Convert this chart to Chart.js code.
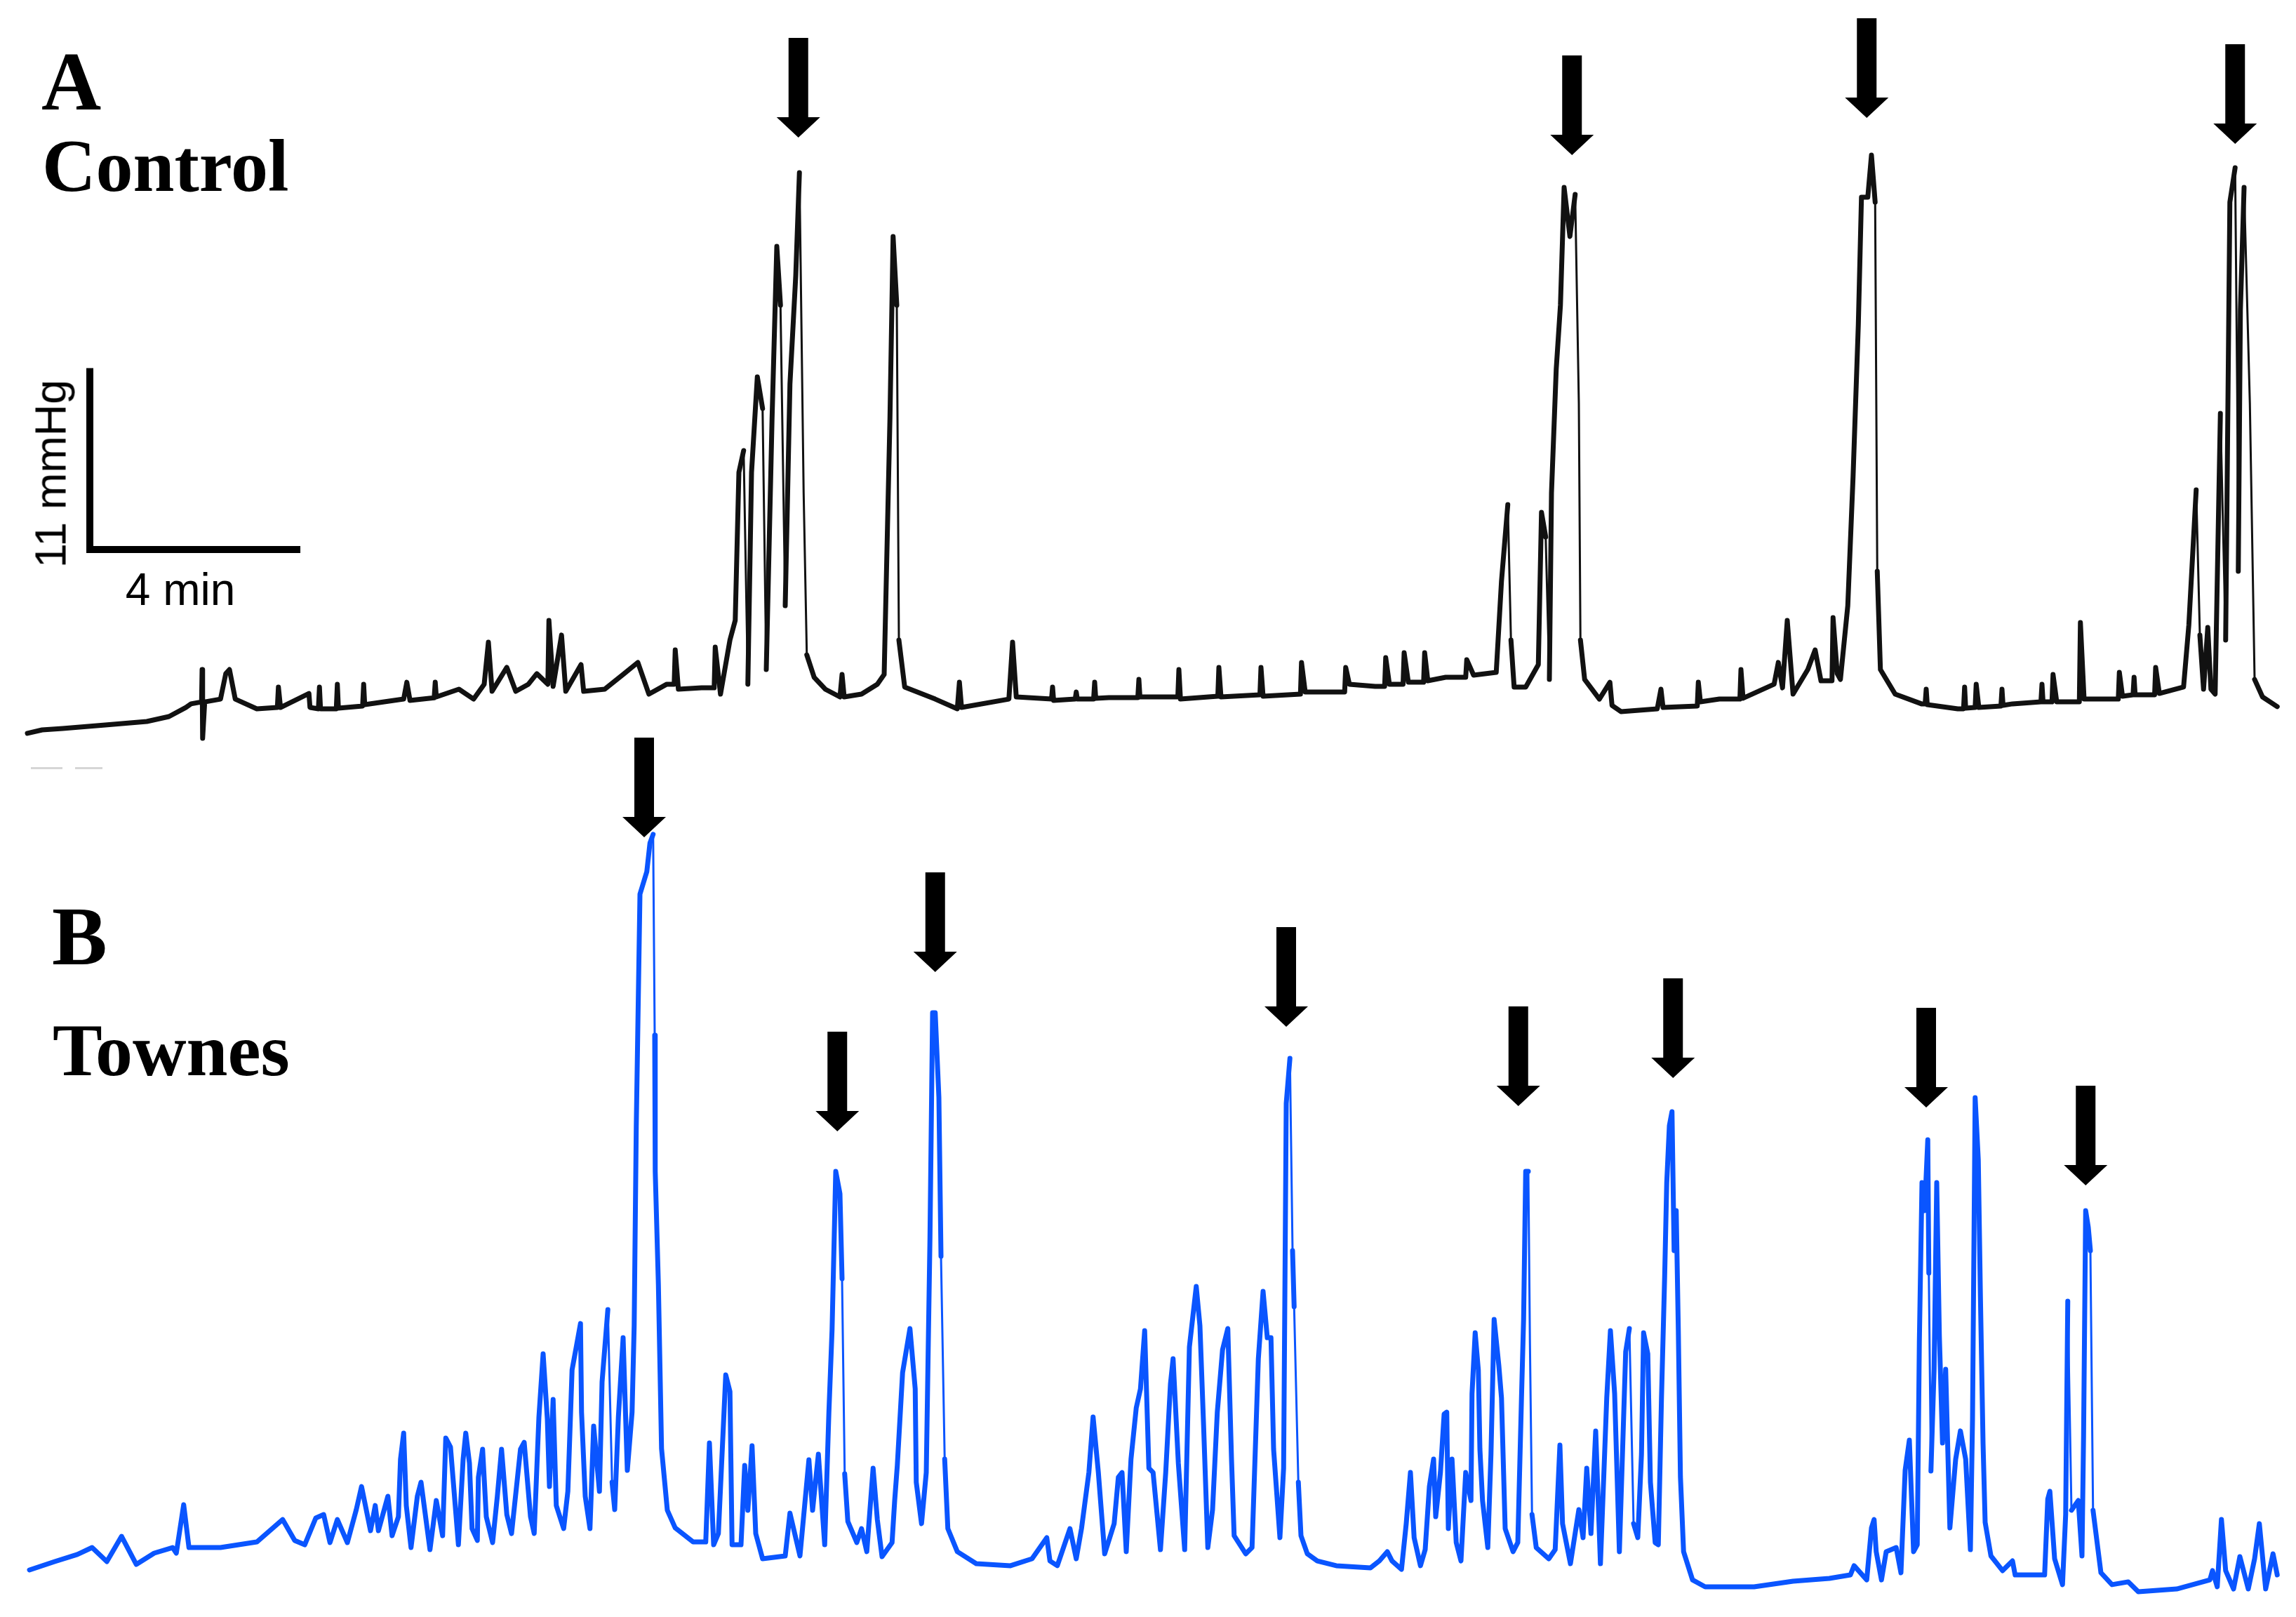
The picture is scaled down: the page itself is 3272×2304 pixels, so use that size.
<!DOCTYPE html>
<html>
<head>
<meta charset="utf-8">
<title>Control vs Townes pressure traces</title>
<script src="https://cdn.jsdelivr.net/npm/chart.js@4.4.1/dist/chart.umd.min.js"></script>
<style>
    html, body { margin: 0; padding: 0; background: #fff; }
    #page { position: relative; width: 3272px; height: 2304px; overflow: hidden; background: #fff; }
    canvas { position: absolute; left: 0; }
    #chart-a { top: 0; }
    #chart-b { top: 1000px; }
    .label { position: absolute; line-height: 1; white-space: nowrap; color: #000; }
    .serif { font-family: "Liberation Serif", "Times New Roman", serif; font-weight: bold; }
    .sans { font-family: "Liberation Sans", Arial, sans-serif; }
    .smudge { position: absolute; height: 3px; background: #d6d6d6; top: 1093px; }
</style>
</head>
<body>
<div id="page">
    <canvas id="chart-a" width="3272" height="1120"></canvas>
    <canvas id="chart-b" width="3272" height="1304"></canvas>

    <div class="label serif" style="left:59px; top:58px; font-size:118px;">A</div>
    <div class="label serif" style="left:60px; top:184px; font-size:106px;">Control</div>
    <div class="label serif" style="left:74px; top:1276px; font-size:118px;">B</div>
    <div class="label serif" style="left:75px; top:1444px; font-size:106px;">Townes</div>

    <div class="label sans" style="left:72px; top:675px; font-size:63px; transform: translate(-50%, -50%) rotate(-90deg);">11 mmHg</div>
    <div class="label sans" style="left:257px; top:808px; font-size:64px; transform: translateX(-50%);">4 min</div>

    <div class="smudge" style="left:44px; width:45px;"></div>
    <div class="smudge" style="left:107px; width:39px;"></div>
</div>

<script>
// Panel A - Control (time in min, pressure in mmHg above baseline)
const timeA = [
    0.52, 0.80, 1.19, 2.00, 2.79, 3.21, 3.53, 3.63, 3.83, 3.84,
    3.85, 3.89, 4.19, 4.29, 4.36, 4.47, 4.88, 5.27, 5.29, 5.33,
    5.87, 5.89, 6.05, 6.07, 6.09, 6.28, 6.39, 6.41, 6.43, 6.89,
    6.91, 6.93, 7.67, 7.73, 7.79, 8.25, 8.27, 8.29, 8.72, 9.00,
    9.20, 9.28, 9.35, 9.63, 9.80, 10.04, 10.20, 10.41, 10.43, 10.51,
    10.67, 10.75, 11.04, 11.09, 11.49, 11.84, 12.12, 12.33, 12.67, 12.81,
    12.83, 12.89, 13.33, 13.57, 13.59, 13.69, 13.87, 13.97, 14.04, 14.13,
    14.21, 14.28, 14.39, 14.49, 14.56, 14.67, 14.76, 14.83, 14.92, 15.01,
    15.12, 15.19, 15.27, 15.33, 15.47, 15.68, 15.96, 16.00, 16.04, 16.37,
    16.67, 16.80, 16.91, 16.97, 17.04, 17.08, 17.19, 17.77, 18.19, 18.23,
    18.27, 19.17, 19.24, 19.31, 19.98, 20.00, 20.02, 20.43, 20.45, 20.47,
    20.56, 20.78, 20.80, 20.82, 21.07, 21.62, 21.64, 21.66, 21.73, 22.38,
    22.40, 22.43, 23.14, 23.16, 23.20, 23.94, 23.96, 24.00, 24.71, 24.73,
    24.80, 25.55, 25.57, 25.64, 26.13, 26.31, 26.33, 26.40, 26.66, 26.68,
    26.76, 27.05, 27.07, 27.13, 27.47, 27.85, 27.87, 28.00, 28.43, 28.53,
    28.65, 28.71, 28.77, 28.99, 29.23, 29.29, 29.37, 29.44, 29.48, 29.57,
    29.65, 29.72, 29.83, 29.93, 30.00, 30.03, 30.11, 30.39, 30.59, 30.63,
    30.80, 31.49, 31.56, 31.60, 32.25, 32.27, 32.31, 32.67, 33.06, 33.08,
    33.12, 33.71, 33.79, 33.87, 33.96, 34.07, 34.35, 34.49, 34.60, 34.81,
    34.83, 34.91, 34.97, 35.11, 35.21, 35.31, 35.37, 35.49, 35.56, 35.63,
    35.67, 35.73, 36.01, 36.51, 36.58, 36.60, 36.62, 37.20, 37.31, 37.33,
    37.35, 37.53, 37.55, 37.60, 38.02, 38.04, 38.06, 38.24, 38.78, 38.80,
    38.82, 38.99, 39.01, 39.08, 39.51, 39.53, 39.60, 40.25, 40.27, 40.33,
    40.53, 40.55, 40.57, 40.94, 40.96, 41.03, 41.49, 41.59, 41.73, 41.80,
    41.87, 41.95, 42.01, 42.09, 42.19, 42.29, 42.37, 42.47, 42.51, 42.53,
    42.57, 42.64, 42.75, 42.84, 42.99, 43.27
];
const pressureA = [
    0.64, 0.85, 0.94, 1.15, 1.36, 1.66, 2.21, 2.43, 2.55, 4.51,
    0.34, 2.55, 2.72, 4.26, 4.51, 2.72, 2.13, 2.21, 3.45, 2.21,
    3.06, 2.21, 2.13, 3.45, 2.13, 2.13, 2.13, 3.62, 2.17, 2.30,
    3.62, 2.38, 2.72, 3.74, 2.64, 2.80, 3.74, 2.85, 3.32, 2.72,
    3.62, 6.17, 3.19, 4.64, 3.19, 3.62, 4.26, 3.62, 7.49, 3.49,
    6.60, 3.19, 4.81, 3.19, 3.32, 4.21, 4.94, 3.02, 3.62, 3.62,
    5.70, 3.32, 3.40, 3.40, 5.87, 3.02, 6.30, 7.49, 16.47, 17.79,
    3.62, 16.47, 22.26, 20.34, 4.51, 19.74, 30.17, 26.60, 8.38, 21.83,
    28.38, 34.64, 15.23, 5.40, 4.04, 3.32, 2.85, 4.21, 2.85, 3.02,
    3.62, 4.21, 19.74, 30.77, 26.60, 6.30, 3.45, 2.72, 2.13, 3.74,
    2.21, 2.72, 6.17, 2.85, 2.72, 3.45, 2.64, 2.72, 3.15, 2.72,
    2.72, 2.72, 3.74, 2.77, 2.81, 2.81, 3.91, 2.85, 2.85, 2.85,
    4.51, 2.72, 2.89, 4.64, 2.85, 2.98, 4.64, 2.89, 3.02, 4.94,
    3.15, 3.15, 4.64, 3.62, 3.49, 3.49, 5.23, 3.62, 3.62, 5.53,
    3.74, 3.74, 5.53, 3.83, 4.04, 4.04, 5.11, 4.17, 4.34, 9.87,
    14.51, 6.30, 3.45, 3.45, 4.81, 14.04, 12.55, 3.91, 15.23, 22.72,
    26.60, 33.74, 30.77, 33.32, 20.64, 6.30, 3.91, 2.72, 3.74, 2.34,
    1.96, 2.13, 3.32, 2.21, 2.30, 3.74, 2.55, 2.72, 2.72, 4.51,
    2.77, 3.62, 4.94, 3.40, 7.49, 3.02, 4.51, 5.70, 3.83, 3.83,
    7.66, 4.26, 3.91, 8.38, 16.17, 25.40, 33.15, 33.15, 35.70, 32.85,
    10.47, 4.51, 3.02, 2.43, 2.43, 3.32, 2.38, 2.13, 2.13, 3.45,
    2.17, 2.21, 3.62, 2.21, 2.30, 3.32, 2.34, 2.43, 2.55, 3.62,
    2.55, 2.55, 4.21, 2.55, 2.55, 7.36, 2.72, 2.72, 4.34, 2.89,
    2.98, 4.04, 2.98, 2.98, 4.64, 3.06, 3.45, 7.19, 15.40, 6.60,
    3.32, 7.06, 3.32, 3.02, 20.04, 6.30, 32.85, 34.94, 21.23, 10.47,
    26.30, 33.74, 20.64, 3.91, 2.85, 2.26
];

// Panel B - Townes
const timeB = [
    0.56, 1.04, 1.47, 1.75, 2.03, 2.31, 2.59, 2.93, 3.28, 3.35,
    3.49, 3.59, 4.19, 4.88, 5.37, 5.60, 5.79, 6.00, 6.15, 6.27,
    6.41, 6.60, 6.77, 6.87, 7.04, 7.13, 7.19, 7.37, 7.45, 7.57,
    7.61, 7.67, 7.72, 7.81, 7.93, 8.00, 8.17, 8.29, 8.41, 8.47,
    8.56, 8.71, 8.80, 8.85, 8.92, 8.97, 9.07, 9.09, 9.17, 9.24,
    9.36, 9.45, 9.53, 9.63, 9.72, 9.89, 9.96, 10.08, 10.15, 10.24,
    10.32, 10.40, 10.44, 10.51, 10.57, 10.71, 10.79, 10.87, 10.95, 11.03,
    11.05, 11.12, 11.21, 11.28, 11.39, 11.44, 11.55, 11.63, 11.68, 11.75,
    11.84, 11.92, 12.01, 12.05, 12.09, 12.16, 12.29, 12.35, 12.41, 12.44,
    12.45, 12.51, 12.57, 12.68, 12.83, 13.17, 13.41, 13.48, 13.56, 13.65,
    13.79, 13.87, 13.91, 14.08, 14.15, 14.21, 14.29, 14.36, 14.49, 14.92,
    15.01, 15.20, 15.37, 15.44, 15.55, 15.67, 15.75, 15.81, 15.88, 15.96,
    16.00, 16.05, 16.11, 16.28, 16.37, 16.47, 16.59, 16.67, 16.76, 16.95,
    17.00, 17.05, 17.15, 17.29, 17.39, 17.41, 17.51, 17.60, 17.67, 17.72,
    17.77, 17.84, 17.88, 17.95, 18.01, 18.19, 18.55, 19.20, 19.61, 19.89,
    19.95, 20.09, 20.33, 20.45, 20.55, 20.69, 20.77, 20.87, 20.99, 21.17,
    21.25, 21.32, 21.40, 21.49, 21.59, 21.67, 21.75, 21.83, 21.91, 22.05,
    22.15, 22.24, 22.29, 22.39, 22.51, 22.60, 22.73, 22.80, 22.87, 22.95,
    23.04, 23.13, 23.23, 23.33, 23.40, 23.45, 23.67, 23.79, 23.91, 24.00,
    24.08, 24.15, 24.20, 24.32, 24.39, 24.41, 24.44, 24.51, 24.56, 24.59,
    24.67, 24.72, 24.84, 25.03, 25.39, 26.04, 26.21, 26.36, 26.45, 26.63,
    26.72, 26.80, 26.87, 26.99, 27.08, 27.16, 27.24, 27.28, 27.37, 27.44,
    27.49, 27.52, 27.59, 27.67, 27.76, 27.85, 27.95, 27.97, 28.03, 28.09,
    28.12, 28.17, 28.27, 28.33, 28.39, 28.48, 28.53, 28.60, 28.75, 28.84,
    28.91, 28.95, 28.99, 29.04, 29.07, 29.11, 29.19, 29.43, 29.55, 29.64,
    29.69, 29.84, 30.00, 30.08, 30.15, 30.23, 30.32, 30.41, 30.53, 30.60,
    30.68, 30.77, 30.89, 30.96, 31.04, 31.12, 31.19, 31.23, 31.31, 31.36,
    31.45, 31.51, 31.57, 31.63, 31.67, 31.72, 31.77, 31.81, 31.85, 31.89,
    31.93, 31.99, 32.16, 32.40, 33.33, 34.07, 34.76, 35.16, 35.23, 35.47,
    35.56, 35.61, 35.65, 35.75, 35.84, 36.03, 36.12, 36.20, 36.28, 36.36,
    36.43, 36.47, 36.52, 36.57, 36.63, 36.65, 36.69, 36.75, 36.80, 36.85,
    36.91, 36.97, 37.05, 37.16, 37.25, 37.35, 37.44, 37.48, 37.53, 37.59,
    37.63, 37.68, 37.72, 37.83, 38.05, 38.24, 38.29, 38.85, 38.91, 38.95,
    39.04, 39.19, 39.25, 39.29, 39.36, 39.49, 39.56, 39.59, 39.63, 39.68,
    39.72, 39.77, 39.92, 40.13, 40.44, 40.63, 41.36, 41.99, 42.04, 42.13,
    42.21, 42.29, 42.44, 42.56, 42.72, 42.84, 42.93, 43.05, 43.19, 43.27
];
const pressureB = [
    1.83, 2.34, 2.77, 3.19, 2.34, 3.87, 2.17, 2.85, 3.19, 2.85,
    5.79, 3.19, 3.19, 3.53, 4.89, 3.62, 3.36, 4.98, 5.19, 3.49,
    4.89, 3.49, 5.49, 6.89, 4.21, 5.74, 4.21, 6.30, 3.91, 5.06,
    8.55, 10.13, 5.74, 3.19, 6.30, 7.15, 3.06, 6.04, 3.91, 9.83,
    9.28, 3.36, 8.55, 10.13, 8.30, 4.34, 3.62, 7.45, 9.15, 5.06,
    3.49, 6.30, 9.15, 5.19, 4.04, 9.15, 9.57, 5.06, 4.04, 11.11,
    14.94, 10.98, 6.89, 12.17, 5.74, 4.34, 6.60, 13.96, 15.36, 16.77,
    11.40, 6.30, 4.34, 10.55, 6.60, 13.23, 17.62, 7.15, 5.49, 11.11,
    15.91, 7.87, 11.40, 16.64, 28.77, 42.81, 44.17, 45.91, 46.43, 34.26,
    26.00, 19.15, 9.19, 5.45, 4.38, 3.53, 3.53, 9.53, 3.36, 4.04,
    13.66, 12.64, 3.36, 3.36, 8.17, 5.45, 9.36, 4.04, 2.51, 2.68,
    5.28, 2.68, 8.51, 5.45, 8.85, 3.36, 11.40, 16.38, 26.00, 24.64,
    19.49, 7.66, 4.77, 3.49, 4.34, 2.94, 8.00, 4.89, 2.64, 3.49,
    6.04, 8.17, 13.79, 16.47, 12.81, 7.15, 4.64, 7.74, 21.87, 35.62,
    35.62, 30.47, 20.85, 8.55, 4.34, 2.94, 2.21, 2.09, 2.51, 3.79,
    2.38, 2.09, 4.34, 2.51, 4.34, 7.74, 11.11, 7.74, 2.81, 4.64,
    7.45, 7.74, 2.94, 8.55, 11.66, 12.81, 16.34, 8.00, 7.74, 3.06,
    7.74, 13.11, 14.64, 8.30, 3.06, 15.36, 19.02, 16.64, 10.55, 3.19,
    5.49, 11.40, 15.19, 16.47, 8.55, 3.91, 2.81, 3.19, 14.64, 18.72,
    15.91, 15.91, 9.15, 3.79, 8.00, 16.77, 30.13, 32.85, 21.19, 17.79,
    7.15, 3.91, 2.81, 2.38, 2.09, 1.96, 2.38, 2.94, 2.38, 1.87,
    4.64, 7.74, 3.79, 2.09, 3.06, 6.89, 8.55, 5.06, 7.74, 11.28,
    11.40, 4.34, 8.55, 3.49, 2.38, 7.74, 6.04, 12.51, 16.21, 13.96,
    9.15, 6.04, 3.19, 8.85, 17.02, 14.21, 12.26, 4.34, 2.94, 3.49,
    12.26, 17.02, 26.00, 26.00, 15.70, 5.19, 3.19, 2.51, 3.06, 9.40,
    4.64, 2.21, 5.49, 3.79, 8.00, 4.04, 10.26, 2.21, 12.26, 16.34,
    12.51, 2.94, 15.06, 16.47, 4.64, 3.79, 8.85, 16.21, 14.94, 7.15,
    3.49, 3.36, 12.26, 19.57, 25.32, 28.77, 29.62, 21.19, 23.62, 16.38,
    7.49, 2.94, 1.23, 0.81, 0.81, 1.15, 1.32, 1.53, 2.09, 1.23,
    4.38, 4.89, 2.94, 1.23, 2.94, 3.19, 1.66, 7.87, 9.70, 2.94,
    3.36, 15.70, 25.32, 23.62, 27.91, 19.83, 7.83, 14.00, 25.32, 16.04,
    9.53, 14.00, 4.38, 8.55, 10.26, 8.55, 3.06, 10.94, 30.47, 26.68,
    18.47, 9.53, 4.72, 2.68, 1.79, 2.38, 1.53, 1.53, 6.13, 6.60,
    2.51, 0.94, 5.19, 18.13, 5.45, 6.04, 2.68, 9.87, 23.62, 22.60,
    21.19, 5.45, 1.66, 0.94, 1.11, 0.51, 0.68, 1.23, 1.79, 0.81,
    4.89, 1.79, 0.68, 2.64, 0.68, 2.51, 4.64, 0.68, 2.81, 1.53
];

// Arrows marking the contractions: time (min) and tip level (mmHg)
const arrowTimeA = [15.17, 29.87, 35.47, 42.47];
const arrowTipA = [36.77, 35.70, 37.96, 36.38];
const arrowTimeB = [12.24, 15.91, 17.77, 24.44, 28.85, 31.79, 36.60, 39.63];
const arrowTipB = [46.26, 28.43, 38.09, 34.77, 29.96, 31.66, 29.87, 25.15];

// Calibration bar
const scaleBarMinutes = 4;
const scaleBarMmHg = 11;
const scaleBarOrigin = [1.707, 11.79];

const PAGE_WIDTH = 3272;
const PX_PER_MIN = 75;
const PX_PER_MMHG = 23.5;

const peakArrows = {
    id: 'peakArrows',
    afterDatasetsDraw(chart, args, opts) {
        const { ctx, scales } = chart;
        ctx.save();
        ctx.fillStyle = '#000';
        opts.times.forEach((t, i) => {
            const x = scales.x.getPixelForValue(t);
            const tip = scales.y.getPixelForValue(opts.tips[i]);
            ctx.beginPath();
            ctx.moveTo(x - 14, tip - 142);
            ctx.lineTo(x + 14, tip - 142);
            ctx.lineTo(x + 14, tip - 29);
            ctx.lineTo(x + 31, tip - 29);
            ctx.lineTo(x, tip);
            ctx.lineTo(x - 31, tip - 29);
            ctx.lineTo(x - 14, tip - 29);
            ctx.closePath();
            ctx.fill();
        });
        ctx.restore();
    }
};

const calibrationBar = {
    id: 'calibrationBar',
    afterDatasetsDraw(chart, args, opts) {
        if (!opts.show) return;
        const { ctx, scales } = chart;
        const x0 = scales.x.getPixelForValue(scaleBarOrigin[0]);
        const x1 = scales.x.getPixelForValue(scaleBarOrigin[0] + scaleBarMinutes);
        const y0 = scales.y.getPixelForValue(scaleBarOrigin[1]);
        const y1 = scales.y.getPixelForValue(scaleBarOrigin[1] + scaleBarMmHg);
        ctx.save();
        ctx.strokeStyle = '#000';
        ctx.lineWidth = 10;
        ctx.lineJoin = 'miter';
        ctx.beginPath();
        ctx.moveTo(x0, y1);
        ctx.lineTo(x0, y0);
        ctx.lineTo(x1, y0);
        ctx.stroke();
        ctx.restore();
    }
};

function makeTrace(canvasId, times, values, color, zeroPx, heightPx, arrowTimes, arrowTips, showBar, dropLimit) {
    const points = times.map((t, i) => ({ x: t, y: values[i] }));
    return new Chart(document.getElementById(canvasId), {
        type: 'line',
        data: {
            datasets: [{
                data: points,
                borderColor: color,
                borderWidth: 7,
                borderJoinStyle: 'round',
                borderCapStyle: 'round',
                pointRadius: 0,
                tension: 0,
                fill: false,
                // fast relaxations print as a faint thin stroke on the chart recorder
                segment: {
                    borderWidth: ctx => (ctx.p0.parsed.y - ctx.p1.parsed.y > dropLimit ? 3 : undefined)
                }
            }]
        },
        options: {
            responsive: false,
            animation: false,
            devicePixelRatio: 1,
            events: [],
            layout: { padding: 0 },
            scales: {
                x: { type: 'linear', min: 0, max: PAGE_WIDTH / PX_PER_MIN, display: false },
                y: { type: 'linear', min: -(heightPx - zeroPx) / PX_PER_MMHG, max: zeroPx / PX_PER_MMHG, display: false }
            },
            plugins: {
                legend: { display: false },
                tooltip: { enabled: false },
                peakArrows: { times: arrowTimes, tips: arrowTips },
                calibrationBar: { show: showBar }
            }
        },
        plugins: [peakArrows, calibrationBar]
    });
}

makeTrace('chart-a', timeA, pressureA, '#111111', 1060, 1120, arrowTimeA, arrowTipA, true, 8);
makeTrace('chart-b', timeB, pressureB, '#0a55ff', 1280, 1304, arrowTimeB, arrowTipB, false, 10);
</script>
</body>
</html>
